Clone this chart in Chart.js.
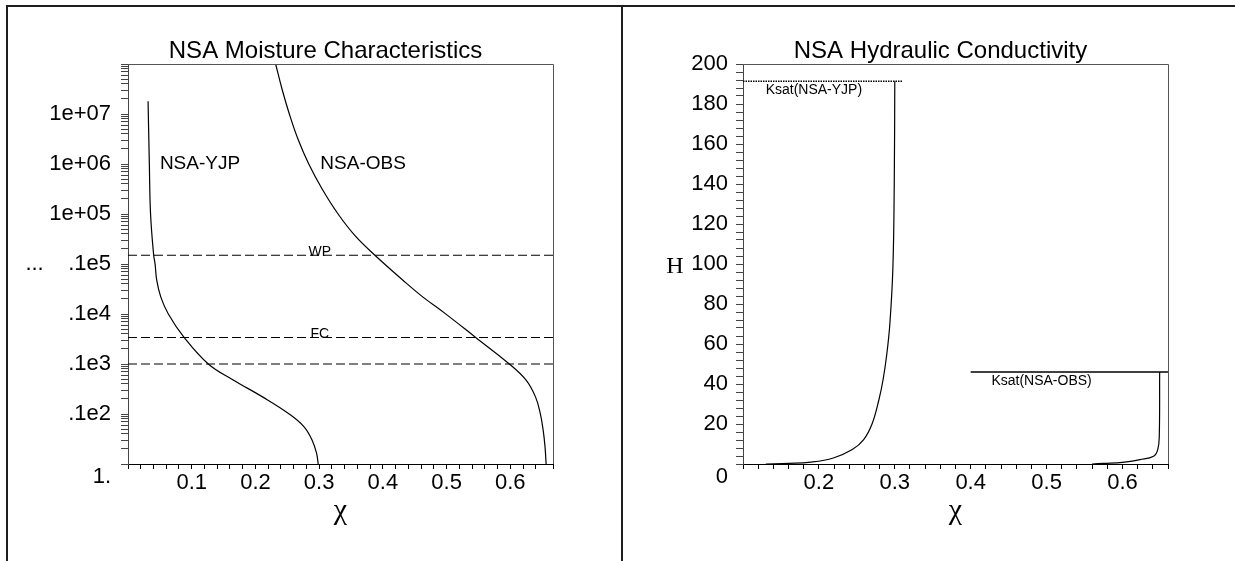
<!DOCTYPE html>
<html>
<head>
<meta charset="utf-8">
<script src="https://cdn.jsdelivr.net/npm/chart.js@4.4.1/dist/chart.umd.min.js"></script>
<style>
  html, body { margin: 0; padding: 0; background: #fff; }
  #page { position: relative; width: 1235px; height: 561px; overflow: hidden; }
  canvas { position: absolute; top: 0; }
  #left { left: 0; }
  #right { left: 622px; }
  .rule { position: absolute; background: #1e1e1e; }
</style>
</head>
<body>
<div id="page">
  <canvas id="left" width="622" height="561"></canvas>
  <canvas id="right" width="613" height="561"></canvas>
  <div class="rule" style="left:6px;top:5px;width:1229px;height:2px"></div>
  <div class="rule" style="left:6px;top:5px;width:2px;height:556px"></div>
  <div class="rule" style="left:621px;top:5px;width:2px;height:556px"></div>
</div>
<script>
// moisture characteristics (theta vs suction)
const yjpTheta = [0.0315, 0.0335, 0.0354, 0.0403, 0.0425, 0.045, 0.0514, 0.0633, 0.088, 0.126, 0.165, 0.211, 0.253, 0.276, 0.289, 0.296, 0.2985];
const yjpPsi   = [1.8e7, 1e6, 1e5, 15000, 10000, 4800, 2200, 1000, 340, 100, 48, 22, 10, 5.6, 3.0, 1.63, 1];
const obsTheta = [0.2317, 0.2417, 0.2532, 0.2667, 0.2837, 0.3047, 0.3297, 0.357, 0.3875, 0.431, 0.4625, 0.4975, 0.5456, 0.5985, 0.6245, 0.6395, 0.647, 0.6515, 0.6545, 0.6562];
const obsPsi   = [1e8, 3.16e7, 1e7, 3.16e6, 1e6, 3.16e5, 1e5, 3.6e4, 15000, 4800, 2200, 1030, 340, 100, 48, 22, 10.3, 4.8, 2.2, 1];

// reference suction levels (dashed)
const refNames = ['WP', 'FC', ''];
const refPsi = [15000, 340, 100];

// left axis ticks
const psiTickValues = [1, 10, 100, 1000, 10000, 1e5, 1e6, 1e7];
const psiTickLabels = [['', '1.'], '.1e2', '.1e3', '.1e4', '...    .1e5', '1e+05', '1e+06', '1e+07'];
const thetaLabels = [0.1, 0.2, 0.3, 0.4, 0.5, 0.6];

// hydraulic conductivity
const kYjpTheta = [0.13, 0.16, 0.189, 0.219, 0.244, 0.259, 0.270, 0.279, 0.2845, 0.2895, 0.2935, 0.2975, 0.2993, 0.300];
const kYjpK     = [0, 0.3, 0.9, 3.0, 7.2, 12.2, 20, 32, 42, 55, 70, 98, 140, 191.4];
const kObsTheta = [0.56, 0.575, 0.60, 0.623, 0.641, 0.6465, 0.6485, 0.649];
const kObsK     = [0, 0.3, 0.8, 2.2, 3.9, 7.2, 13.9, 46];

const ksatNames = ['Ksat(NSA-YJP)', 'Ksat(NSA-OBS)'];
const ksatValues = [191.4, 46];
const ksatFrom = [0.1, 0.4];
const ksatTo = [0.31, 0.66];

const kLabels = [0, 20, 40, 60, 80, 100, 120, 140, 160, 180, 200];

const SANS = '"Liberation Sans", Arial, Helvetica, sans-serif';
const SERIF = '"Liberation Serif", "Times New Roman", serif';

function pts(xs, ys) {
    return xs.map((v, i) => ({ x: v, y: ys[i] }));
}

function near(v, list) {
    return list.find(l => Math.abs(l - v) < 1e-6);
}

function curve(data, extra) {
    return Object.assign({
        data: data,
        showLine: true,
        borderColor: '#000',
        borderWidth: 1.2,
        pointRadius: 0,
        tension: 0.4
    }, extra || {});
}

// frame on top/right of the plot area
function drawBox(ctx, a) {
    ctx.strokeStyle = '#555';
    ctx.lineWidth = 1;
    ctx.beginPath();
    ctx.moveTo(a.left, a.top + 0.5);
    ctx.lineTo(a.right + 0.5, a.top + 0.5);
    ctx.lineTo(a.right + 0.5, a.bottom);
    ctx.stroke();
}

const leftDecor = {
    id: 'leftDecor',
    afterDraw(chart) {
        const { ctx, chartArea: a, scales: { x, y } } = chart;
        ctx.save();
        drawBox(ctx, a);
        ctx.fillStyle = '#000';
        ctx.textAlign = 'center';

        ctx.font = '24px ' + SANS;
        ctx.textBaseline = 'alphabetic';
        ctx.fillText('NSA Moisture Characteristics', (a.left + a.right) / 2 - 15, 58);

        ctx.font = '19px ' + SANS;
        ctx.textBaseline = 'middle';
        ctx.fillText('NSA-YJP', x.getPixelForValue(0.113), y.getPixelForValue(1e6));
        ctx.fillText('NSA-OBS', x.getPixelForValue(0.369), y.getPixelForValue(1e6));

        ctx.font = '14px ' + SANS;
        ctx.textBaseline = 'alphabetic';
        refNames.forEach((n, i) => {
            if (n) ctx.fillText(n, x.getPixelForValue(0.301), y.getPixelForValue(refPsi[i]) + 1);
        });

        ctx.font = '30px ' + SERIF;
        ctx.fillText('\u03C7', (a.left + a.right) / 2, 519);
        ctx.restore();
    }
};

const rightDecor = {
    id: 'rightDecor',
    afterDraw(chart) {
        const { ctx, chartArea: a, scales: { x, y } } = chart;
        ctx.save();
        drawBox(ctx, a);
        ctx.fillStyle = '#000';
        ctx.textAlign = 'center';

        ctx.font = '24px ' + SANS;
        ctx.textBaseline = 'alphabetic';
        ctx.fillText('NSA Hydraulic Conductivity', (a.left + a.right) / 2 - 15, 58);

        ctx.font = '14px ' + SANS;
        ctx.textBaseline = 'top';
        ctx.fillText(ksatNames[0], x.getPixelForValue(0.1934), y.getPixelForValue(ksatValues[0]) + 2);
        ctx.fillText(ksatNames[1], x.getPixelForValue(0.4934), y.getPixelForValue(ksatValues[1]) + 2);

        ctx.font = '24px ' + SERIF;
        ctx.textBaseline = 'alphabetic';
        ctx.fillText('H', a.left - 68, y.getPixelForValue(100) + 9);

        ctx.font = '30px ' + SERIF;
        ctx.fillText('\u03C7', (a.left + a.right) / 2, 519);
        ctx.restore();
    }
};

const axisGrid = {
    display: true,
    drawOnChartArea: false,
    drawTicks: true,
    color: '#000',
    tickLength: 6
};

// LEFT: moisture characteristics
const leftSets = [
    curve(pts(yjpTheta, yjpPsi)),
    curve(pts(obsTheta, obsPsi))
];
refPsi.forEach(p => {
    leftSets.push(curve([{ x: 0, y: p }, { x: 0.667, y: p }], {
        borderDash: [9, 4],
        borderWidth: 1.1,
        tension: 0
    }));
});

new Chart(document.getElementById('left'), {
    type: 'scatter',
    data: { datasets: leftSets },
    options: {
        responsive: false,
        animation: false,
        layout: { padding: { left: 0, top: 64, right: 69, bottom: 0 } },
        plugins: { legend: { display: false }, tooltip: { enabled: false } },
        scales: {
            x: {
                type: 'linear',
                min: 0,
                max: 0.667,
                afterFit: s => { s.height = 97; },
                border: { display: true, color: '#000', width: 1 },
                grid: Object.assign({}, axisGrid, { tickLength: 5 }),
                ticks: {
                    stepSize: 0.02,
                    autoSkip: false,
                    maxRotation: 0,
                    minRotation: 0,
                    padding: 1,
                    color: '#000',
                    font: { family: SANS, size: 22 },
                    callback: v => {
                        const l = near(v, thetaLabels);
                        return l !== undefined ? l.toFixed(1) : '';
                    }
                }
            },
            y: {
                type: 'logarithmic',
                min: 1,
                max: 1e8,
                afterFit: s => { s.width = 128; },
                afterBuildTicks: s => {
                    const out = [];
                    psiTickValues.forEach(d => {
                        for (let m = 1; m <= 9; m++) out.push({ value: d * m });
                    });
                    out.push({ value: 1e8 });
                    s.ticks = out;
                },
                border: { display: true, color: '#444', width: 1 },
                grid: Object.assign({}, axisGrid, { color: '#444', tickLength: 7 }),
                ticks: {
                    autoSkip: false,
                    padding: 10,
                    color: '#000',
                    font: { family: SANS, size: 22 },
                    callback: v => {
                        const i = psiTickValues.findIndex(d => Math.abs(d - v) < d * 1e-6);
                        return i >= 0 ? psiTickLabels[i] : '';
                    }
                }
            }
        }
    },
    plugins: [leftDecor]
});

// RIGHT: hydraulic conductivity
const rightSets = [
    curve(pts(kYjpTheta, kYjpK)),
    curve(pts(kObsTheta, kObsK))
];
ksatValues.forEach((k, i) => {
    rightSets.push(curve([{ x: ksatFrom[i], y: k }, { x: ksatTo[i], y: k }], {
        borderWidth: 1.5,
        borderDash: i === 0 ? [1.5, 1] : [],
        tension: 0
    }));
});

new Chart(document.getElementById('right'), {
    type: 'scatter',
    data: { datasets: rightSets },
    options: {
        responsive: false,
        animation: false,
        layout: { padding: { left: 0, top: 64, right: 67, bottom: 0 } },
        plugins: { legend: { display: false }, tooltip: { enabled: false } },
        scales: {
            x: {
                type: 'linear',
                min: 0.1,
                max: 0.66,
                afterFit: s => { s.height = 97; },
                border: { display: true, color: '#000', width: 1 },
                grid: Object.assign({}, axisGrid, { tickLength: 5 }),
                ticks: {
                    stepSize: 0.02,
                    autoSkip: false,
                    maxRotation: 0,
                    minRotation: 0,
                    padding: 1,
                    color: '#000',
                    font: { family: SANS, size: 22 },
                    callback: v => {
                        const l = near(v, thetaLabels.slice(1));
                        return l !== undefined ? l.toFixed(1) : '';
                    }
                }
            },
            y: {
                type: 'linear',
                min: 0,
                max: 200,
                afterFit: s => { s.width = 121; },
                border: { display: true, color: '#444', width: 1 },
                grid: Object.assign({}, axisGrid, { color: '#444', tickLength: 7 }),
                ticks: {
                    stepSize: 4,
                    autoSkip: false,
                    padding: 8,
                    color: '#000',
                    font: { family: SANS, size: 22 },
                    callback: v => {
                        const l = near(v, kLabels);
                        if (l === undefined) return '';
                        return l === 0 ? ['', '0'] : String(l);
                    }
                }
            }
        }
    },
    plugins: [rightDecor]
});
</script>
</body>
</html>
